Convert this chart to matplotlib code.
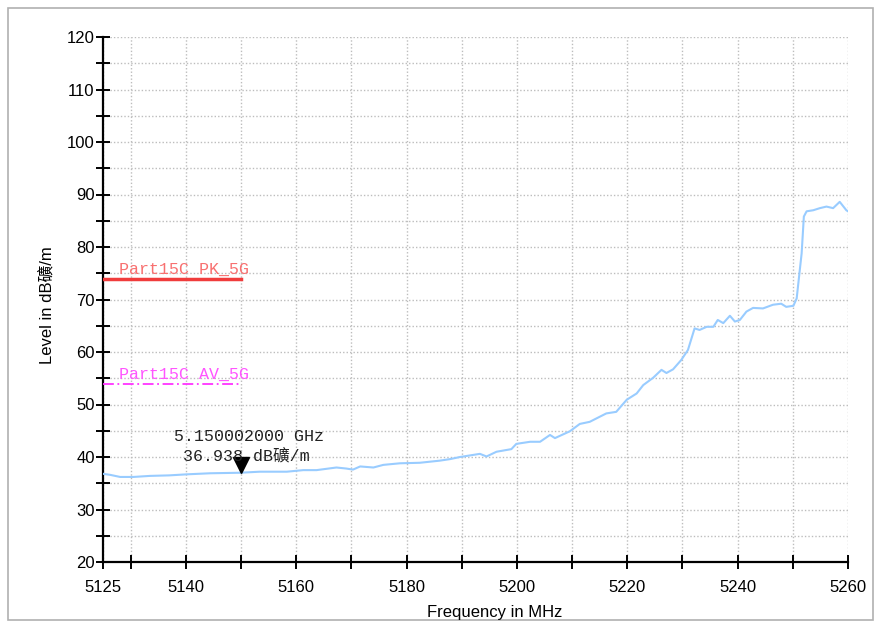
import matplotlib
matplotlib.use("Agg")
import matplotlib.pyplot as plt
from matplotlib.patches import Rectangle
from matplotlib.transforms import offset_copy

freq = [5125, 5126.3, 5128.1, 5130.5, 5133.5, 5137, 5140.2, 5144.4, 5149.8, 5153.4,
        5158.3, 5161.3, 5163.7, 5167.3, 5169.1, 5170.3, 5171.6, 5174.0, 5175.8, 5178.8,
        5182.4, 5186.0, 5187.9, 5189.7, 5193.3, 5194.5, 5196.3, 5199.0, 5199.9, 5202.4,
        5204.2, 5206.0, 5206.9, 5209.6, 5211.4, 5213.2, 5216.2, 5218.0, 5219.9, 5221.7,
        5222.9, 5224.7, 5226.2, 5227.1, 5228.3, 5229.8, 5231.0, 5232.2, 5233.1, 5234.4,
        5235.6, 5236.4, 5237.4, 5238.6, 5239.5, 5240.4, 5241.6, 5242.8, 5244.6, 5246.4,
        5247.9, 5248.8, 5250.1, 5250.7, 5251.2, 5251.6, 5252.0, 5252.5, 5253.7, 5254.9,
        5256.1, 5257.3, 5258.5, 5259.7, 5260]
level = [36.8, 36.6, 36.2, 36.2, 36.4, 36.5, 36.7, 36.9, 37.0, 37.2,
         37.2, 37.5, 37.5, 38.0, 37.8, 37.6, 38.2, 38.0, 38.5, 38.8,
         38.9, 39.3, 39.6, 40.0, 40.6, 40.1, 41.0, 41.5, 42.5, 42.9,
         42.9, 44.2, 43.6, 44.9, 46.3, 46.7, 48.3, 48.6, 50.9, 52.1,
         53.7, 55.1, 56.6, 56.0, 56.7, 58.5, 60.4, 64.5, 64.2, 64.8,
         64.8, 66.1, 65.5, 66.9, 65.8, 66.1, 67.7, 68.4, 68.3, 69.0,
         69.2, 68.6, 68.8, 70.2, 75.0, 78.8, 85.8, 86.8, 87.0, 87.4,
         87.7, 87.4, 88.6, 87.0, 86.8]

limit_x = [5125, 5150]
pk_limit = [74, 74]
av_limit = [54, 54]
pk_label = "Part15C PK_5G"
av_label = "Part15C AV_5G"

marker_freq = 5150
marker_level = 36.938
marker_text1 = "5.150002000 GHz"
marker_text2 = "36.938 dB礦/m"

x_major = [5125, 5140, 5160, 5180, 5200, 5220, 5240, 5260]
x_minor = [5130, 5150, 5170, 5190, 5210, 5230, 5250]
y_major = [20, 30, 40, 50, 60, 70, 80, 90, 100, 110, 120]
y_minor = [25, 35, 45, 55, 65, 75, 85, 95, 105, 115]

W, H = 877, 624
fig = plt.figure(figsize=(W / 100, H / 100), dpi=100)
fig.patch.set_facecolor("white")
fig.patches.append(Rectangle((8 / W, 4 / H), 865 / W, 612 / H, transform=fig.transFigure,
                             fill=False, edgecolor="#B0B0B0", linewidth=1.2))

ax = fig.add_axes([103 / W, 1 - 562 / H, 745 / W, 525 / H])
ax.set_xlim(5125, 5260)
ax.set_ylim(20, 120)

for s in ["top", "right"]:
    ax.spines[s].set_visible(False)
for s in ["left", "bottom"]:
    ax.spines[s].set_linewidth(1.6)
    ax.spines[s].set_color("black")

ax.set_xticks(x_major)
ax.set_xticks(x_minor, minor=True)
ax.set_yticks(y_major)
ax.set_yticks(y_minor, minor=True)
ax.tick_params(axis="both", which="both", direction="inout", length=10, width=1.4, color="black")
ax.tick_params(axis="x", which="major", pad=8)
ax.tick_params(axis="y", which="major", pad=1)
for lab in ax.get_xticklabels() + ax.get_yticklabels():
    lab.set_fontfamily("Liberation Sans")
    lab.set_fontsize(12)

ax.grid(True, which="both", color="#BDBDBD", linestyle=(0, (1, 1.5)), linewidth=1.0)
ax.set_axisbelow(True)

ax.plot(freq, level, color="#99CCFF", linewidth=1.5, zorder=3)

ax.plot(limit_x, pk_limit, color="#F03C3C", linewidth=2.5, zorder=4)
ax.plot(limit_x, av_limit, color="#FF33FF", linewidth=1.3, linestyle=(0, (6, 2, 1, 2)), zorder=4)
ax.text(5127.9, 74.3, pk_label, color="#F87070", fontsize=12, family=["Liberation Mono"],
        ha="left", va="bottom", zorder=5)
ax.text(5127.9, 54.3, av_label, color="#FF55FF", fontsize=12, family=["Liberation Mono"],
        ha="left", va="bottom", zorder=5)

tr = offset_copy(ax.transData, fig=fig, x=0, y=5.5, units="points")
ax.plot([marker_freq], [marker_level], marker="v", markersize=11, color="black",
        transform=tr, zorder=6, linestyle="none")
ax.text(5137.9, 43.9, marker_text1, fontsize=12, family=["Liberation Mono", "Noto Sans CJK SC"],
        ha="left", va="center", color="#222222", zorder=6)
ax.text(5139.5, 40.3, marker_text2, fontsize=12, family=["Liberation Mono", "Noto Sans CJK SC"],
        ha="left", va="center", color="#222222", zorder=6)

fig.text(47 / W, 1 - 305 / H, "Level in dB礦/m", rotation=90, ha="center", va="center",
         fontsize=12, family=["Liberation Sans", "Noto Sans CJK SC"])
fig.text(495 / W, 1 - 612 / H, "Frequency in MHz", ha="center", va="center",
         fontsize=12, family=["Liberation Sans", "Noto Sans CJK SC"])

fig.savefig("out.png", dpi=100, facecolor="white")
